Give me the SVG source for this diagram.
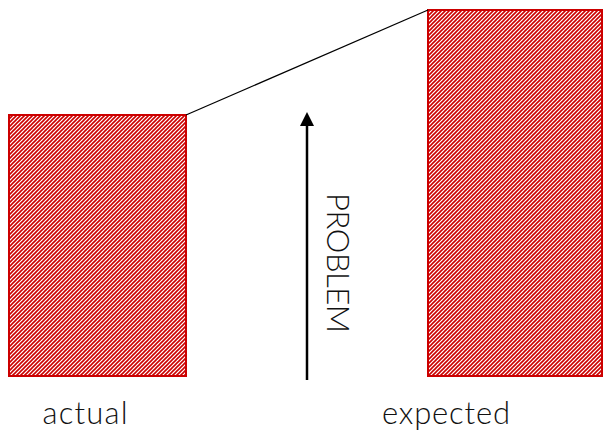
<svg xmlns="http://www.w3.org/2000/svg" width="604" height="431" viewBox="0 0 604 431">
<style>
.bar{fill:url(#hatch);stroke:#cc0000;stroke-width:2}
.lbl{font-family:"Lato","Liberation Sans",Arial,sans-serif;font-weight:300;font-size:31px;fill:#111;text-anchor:middle}
.conn{stroke:#000;stroke-width:1.2;fill:none}
</style>
<defs>
<pattern id="hatch" patternUnits="userSpaceOnUse" width="4" height="4">
<rect width="4" height="4" fill="#fff"/>
<path d="M0,4 L4,0 M-1,1 L1,-1 M3,5 L5,3" stroke="#cc0000" stroke-width="1.6"/>
</pattern>
</defs>
<g id="actual">
<rect class="bar" x="9" y="115" width="177" height="261"/>
<text class="lbl" x="85" y="424" textLength="85">actual</text>
</g>
<g id="expected">
<rect class="bar" x="428" y="10" width="174" height="366"/>
<text class="lbl" x="446" y="424" textLength="128">expected</text>
</g>
<g id="connectors">
<line class="conn" x1="186" y1="115" x2="428" y2="10"/>
<path d="M307,380 L307,126" stroke="#000" stroke-width="2.5" fill="none"/>
<path d="M300,126 L307,112 L314,126 Z" fill="#000"/>
</g>
<g id="problem">
<text class="lbl" transform="translate(327,263) rotate(90)" x="0" y="0" textLength="140">PROBLEM</text>
</g>
</svg>
